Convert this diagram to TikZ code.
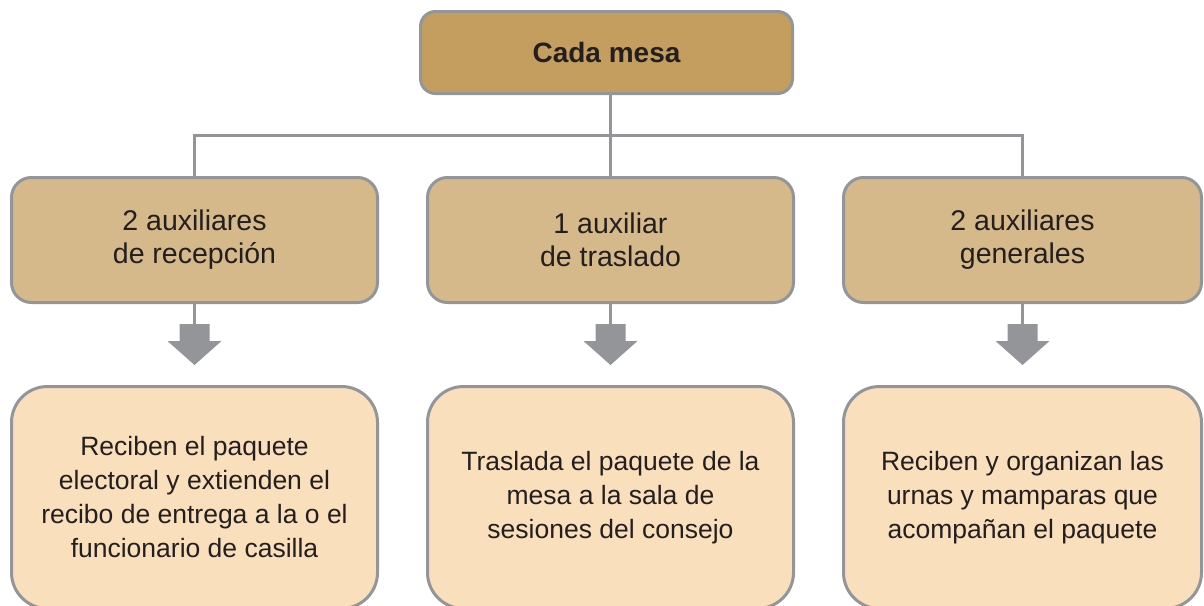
\documentclass[tikz,border=0pt]{standalone}
\usepackage{fontspec}
\setmainfont{Liberation Sans}
\definecolor{bordergray}{HTML}{939598}
\definecolor{topfill}{HTML}{C49E5E}
\definecolor{midfill}{HTML}{D5B98A}
\definecolor{botfill}{HTML}{F9DFBC}
\definecolor{textdark}{HTML}{231F20}
\begin{document}
\begin{tikzpicture}[x=1pt,y=-1pt,
  box/.style={draw=bordergray, line width=3pt, align=center, text=textdark, inner sep=0pt},
  topbox/.style={box, fill=topfill, rounded corners=15pt, minimum width=372pt, minimum height=82pt, font=\fontsize{28}{32}\selectfont\bfseries},
  midbox/.style={box, fill=midfill, rounded corners=20pt, minimum height=125pt, font=\fontsize{28.5}{33}\selectfont},
  botbox/.style={box, fill=botfill, rounded corners=36pt, minimum height=222pt, font=\fontsize{26.5}{34}\selectfont},
  conn/.style={draw=bordergray, line width=3pt},
  blockarrow/.style={fill=bordergray}
]
\useasboundingbox (0,0) rectangle (1204,605);

\node[topbox] (top) at (606.5,52.5) {Cada mesa};

\node[midbox, minimum width=366pt] (m1) at (194.5,240) {2 auxiliares\\de recepción};
\node[midbox, minimum width=366pt] (m2) at (610.5,240) {1 auxiliar\\de traslado};
\node[midbox, minimum width=358pt] (m3) at (1022.5,240) {2 auxiliares\\generales};

\node[botbox, minimum width=366pt] (b1) at (194.5,497.5) {Reciben el paquete\\electoral y extienden el\\recibo de entrega a la o el\\funcionario de casilla};
\node[botbox, minimum width=366pt] (b2) at (610.5,497.5) {Traslada el paquete de la\\mesa a la sala de\\sesiones del consejo};
\node[botbox, minimum width=358pt] (b3) at (1022.5,497.5) {Reciben y organizan las\\urnas y mamparas que\\acompañan el paquete};

\coordinate (h) at (0,135);
\draw[conn] (m2.north |- top.south) -- (m2.north);
\draw[conn] (m1.north) -- (m1.north |- h) -- (m3.north |- h) -- (m3.north);

\foreach \i in {1,2,3} {
  \coordinate (a\i) at (m\i.south |- 0,324);
  \draw[conn] (m\i.south) -- (a\i);
  \fill[blockarrow] (a\i) ++(-15,0) -- ++(30,0) -- ++(0,17) -- ++(12,0) -- ++(-27,24) -- ++(-27,-24) -- ++(12,0) -- cycle;
}
\end{tikzpicture}
\end{document}
